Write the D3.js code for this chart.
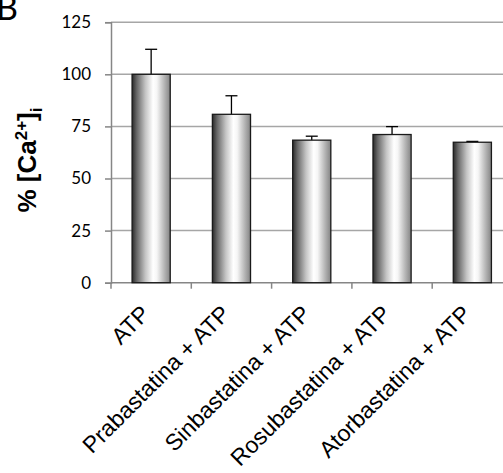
<!DOCTYPE html>
<html>
  <head>
    <meta charset="UTF-8" />
    <script src="https://d3js.org/d3.v7.min.js"></script>
    <style>
      body { margin: 0; background: #fff; }
      svg { display: block; }
    </style>
  </head>
  <body>
    <div id="chart"></div>
    <script>
      // data
      const categories = ["ATP", "Prabastatina + ATP", "Sinbastatina + ATP", "Rosubastatina + ATP", "Atorbastatina + ATP"];
      const values = [100, 80.8, 68.4, 71.1, 67.4];
      const errors = [12.0, 8.9, 1.9, 3.8, 0.4];
      const yTicks = [0, 25, 50, 75, 100, 125];

      const w = 503, h = 473;
      const plotLeft = 111, plotRight = 512.5, plotTop = 22.2, plotBottom = 282.7;

      const svg = d3.select("#chart").append("svg").attr("width", w).attr("height", h);

      // gradient fill of the bars
      const grad = svg.append("defs").append("linearGradient")
        .attr("id", "barGrad").attr("x1", "0%").attr("x2", "100%").attr("y1", "0%").attr("y2", "0%");
      [[0, "#2a2a2a"], [0.12, "#666666"], [0.35, "#c4c4c4"], [0.55, "#ffffff"], [0.65, "#f6f6f6"], [0.85, "#b4b4b4"], [1, "#848484"]]
        .forEach(function (s) {
          grad.append("stop").attr("offset", s[0]).attr("stop-color", s[1]);
        });

      const x = d3.scaleBand().domain(categories).range([plotLeft, plotRight]).padding(0);
      const y = d3.scaleLinear().domain([0, 125]).range([plotBottom, plotTop]);
      const barW = x.bandwidth() * 0.475;

      // gridlines
      svg.append("g")
        .selectAll("line")
        .data(yTicks.slice(1))
        .enter()
        .append("line")
        .attr("x1", plotLeft).attr("x2", plotRight)
        .attr("y1", function (d) { return y(d); })
        .attr("y2", function (d) { return y(d); })
        .attr("stroke", "#a6a6a6")
        .attr("stroke-width", 1.5);

      // y axis
      const yAxis = svg.append("g")
        .attr("transform", "translate(" + plotLeft + ",0)")
        .call(d3.axisLeft(y).tickValues(yTicks).tickSize(6).tickPadding(14));
      yAxis.select(".domain").attr("stroke", "#868686").attr("stroke-width", 1.5);
      yAxis.selectAll(".tick line").attr("stroke", "#868686").attr("stroke-width", 1.5);
      yAxis.selectAll(".tick text")
        .attr("font-family", "Lato, 'Open Sans', sans-serif")
        .attr("font-size", "17px")
        .attr("fill", "#000");

      // x axis line + ticks at band edges
      svg.append("line")
        .attr("x1", plotLeft).attr("x2", plotRight)
        .attr("y1", plotBottom).attr("y2", plotBottom)
        .attr("stroke", "#868686").attr("stroke-width", 1.5);
      svg.append("g")
        .selectAll("line")
        .data(categories)
        .enter()
        .append("line")
        .attr("x1", function (d) { return x(d); })
        .attr("x2", function (d) { return x(d); })
        .attr("y1", plotBottom).attr("y2", plotBottom + 6)
        .attr("stroke", "#868686").attr("stroke-width", 1.5);

      // error bars (upper only)
      const errG = svg.append("g");
      categories.forEach(function (c, i) {
        const cx = x(c) + x.bandwidth() / 2;
        errG.append("line")
          .attr("x1", cx).attr("x2", cx)
          .attr("y1", y(values[i])).attr("y2", y(values[i] + errors[i]))
          .attr("stroke", "#000").attr("stroke-width", 1.3);
        errG.append("line")
          .attr("x1", cx - 6).attr("x2", cx + 6)
          .attr("y1", y(values[i] + errors[i])).attr("y2", y(values[i] + errors[i]))
          .attr("stroke", "#000").attr("stroke-width", 1.3);
      });

      // bars
      svg.append("g")
        .selectAll("rect")
        .data(values)
        .enter()
        .append("rect")
        .attr("x", function (d, i) { return x(categories[i]) + (x.bandwidth() - barW) / 2; })
        .attr("y", function (d) { return y(d); })
        .attr("width", barW)
        .attr("height", function (d) { return plotBottom - y(d); })
        .attr("fill", "url(#barGrad)")
        .attr("stroke", "#1a1a1a")
        .attr("stroke-width", 1.3);

      // category labels rotated
      svg.append("g")
        .selectAll("text")
        .data(categories)
        .enter()
        .append("text")
        .attr("transform", function (d) {
          return "translate(" + (x(d) + x.bandwidth() / 2) + "," + (plotBottom + 32.5) + ") rotate(-45)";
        })
        .attr("text-anchor", "end")
        .attr("font-family", "'Liberation Sans', Arial, sans-serif")
        .attr("font-size", "23px")
        .attr("fill", "#000")
        .text(function (d) { return d; });

      // y axis title
      const yt = svg.append("text")
        .attr("transform", "translate(36,160) rotate(-90)")
        .attr("text-anchor", "middle")
        .attr("font-family", "'Liberation Sans', Arial, sans-serif")
        .attr("font-weight", "bold")
        .attr("font-size", "26px")
        .attr("fill", "#000");
      yt.append("tspan").text("% [Ca");
      yt.append("tspan").attr("dy", -9).attr("font-size", "17px").text("2+");
      yt.append("tspan").attr("dy", 9).text("]");
      yt.append("tspan").attr("dy", 6).attr("font-size", "17px").text("i");

      // panel letter
      svg.append("text")
        .attr("x", -4).attr("y", 20)
        .attr("font-family", "Lato, 'Open Sans', sans-serif")
        .attr("font-size", "34px")
        .attr("fill", "#000")
        .text("B");
    </script>
  </body>
</html>
